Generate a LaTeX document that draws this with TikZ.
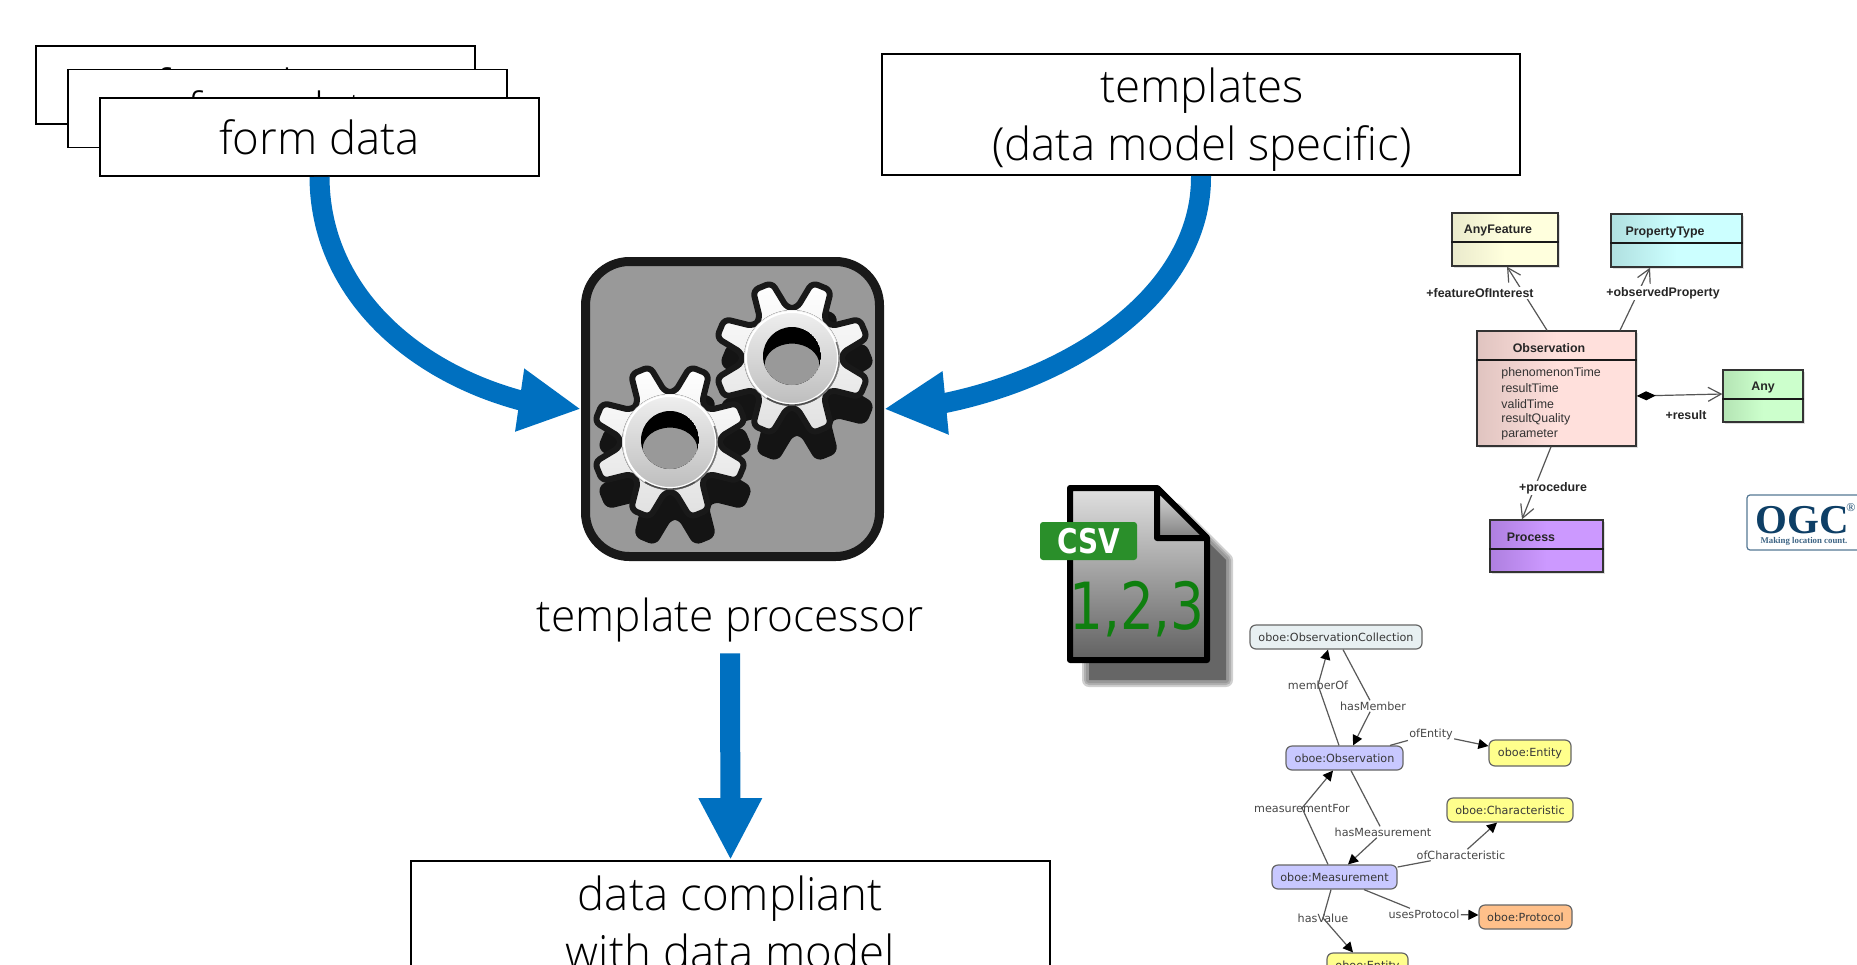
\documentclass[tikz,border=0pt]{standalone}
\usepackage{fontspec}
\setmainfont{Open Sans Light}
\newfontfamily\umlfont{Liberation Sans}
\newfontfamily\oboefont{DejaVu Sans}
\newfontfamily\csvfont{DejaVu Sans}[FakeStretch=0.82]
\newfontfamily\ogcfont{Liberation Serif}
\usetikzlibrary{arrows.meta,shadows}
\definecolor{flowblue}{HTML}{0070C0}
\definecolor{icongray}{HTML}{999999}
\definecolor{edgegray}{HTML}{555555}
\definecolor{csvgreen}{HTML}{2A8F2A}
\definecolor{digitgreen}{HTML}{0F7F0F}
\definecolor{ogcblue}{HTML}{0E3F66}
\definecolor{afl}{HTML}{EAEACC}\definecolor{afr}{HTML}{FFFFDD}
\definecolor{ptl}{HTML}{B0E0E0}\definecolor{ptr}{HTML}{CCFFFF}
\definecolor{obl}{HTML}{E0C4C0}\definecolor{obr}{HTML}{FFE0DC}
\definecolor{anl}{HTML}{B4E4B4}\definecolor{anr}{HTML}{CCFFCC}
\definecolor{prl}{HTML}{AE7FDF}\definecolor{prr}{HTML}{CC99FF}
\definecolor{oboeblue}{HTML}{C8C8FF}
\definecolor{oboeyellow}{HTML}{FFFF8C}
\definecolor{oboeorange}{HTML}{FFC08A}
\definecolor{oboepale}{HTML}{E8F0F2}
\newcommand{\gearshape}{(5.5:50) -- (15:78) -- (30:78) -- (39.5:50) -- (50.5:50) -- (60:78) -- (75:78) -- (84.5:50) -- (95.5:50) -- (105:78) -- (120:78) -- (129.5:50) -- (140.5:50) -- (150:78) -- (165:78) -- (174.5:50) -- (185.5:50) -- (195:78) -- (210:78) -- (219.5:50) -- (230.5:50) -- (240:78) -- (255:78) -- (264.5:50) -- (275.5:50) -- (285:78) -- (300:78) -- (309.5:50) -- (320.5:50) -- (330:78) -- (345:78) -- (354.5:50) -- cycle}
\newcommand{\gearbody}[2]{%
  \begin{scope}[shift={(#1,#2)}]
    \draw[line width=3pt,draw=black!90,line join=round,rounded corners=3pt,top color=white,bottom color=black!12] \gearshape;
    \fill[top color=black!6,bottom color=black!26] (0,0) circle[radius=48];
    \draw[white,line width=1pt] (0,0) circle[radius=46];
    \draw[black!55,line width=.7pt] (25,40) arc[start angle=58,end angle=-20,radius=47];
    \draw[black!70,line width=.8pt] (-25,40) arc[start angle=122,end angle=58,radius=47];
    \begin{scope}
      \clip (0,-2) circle[radius=29];
      \fill[black] (0,-2) circle[radius=29];
      \draw[fill=icongray,draw=black,line width=.6pt] (0,7) ellipse[x radius=28,y radius=22];
    \end{scope}
  \end{scope}}
\newcommand{\gearshadow}[2]{%
  \begin{scope}[shift={(#1,#2)}]
    \draw[line width=2pt,draw=black!92,fill=black!92,line join=round,rounded corners=3pt] \gearshape;
  \end{scope}}
\tikzset{
  x=0.5pt,y=-0.5pt,
  bigtext/.style={font=\fontsize{22.8}{29}\selectfont,align=center,inner sep=0pt},
  plainbox/.style={bigtext,draw=black,fill=white,line width=.9pt,minimum height=39pt,minimum width=219.5pt},
  flow/.style={draw=flowblue,line width=10pt,-{Triangle[length=31pt,width=29.5pt,fill=flowblue]}},
  umlbox/.style={draw=black!80,line width=.7pt,inner sep=0pt,minimum height=26.5pt,drop shadow={shadow xshift=1pt,shadow yshift=-1pt,opacity=.25}},
  umlshade/.style n args={2}{left color=#1,right color=#2,middle color=#2},
  umltitle/.style={font=\umlfont\bfseries\fontsize{6.2}{7}\selectfont,text=black!85,inner sep=0pt},
  umlattr/.style={font=\umlfont\fontsize{6.2}{7}\selectfont,text=black!80,inner sep=0pt,anchor=west},
  umllabel/.style={font=\umlfont\bfseries\fontsize{6.2}{7}\selectfont,text=black!85,inner sep=.6pt,fill=white},
  umlline/.style={draw=edgegray,line width=.6pt},
  umlarrow/.style={umlline,-{Straight Barb[length=6.5pt,width=7pt]}},
  umlcomp/.style={umlline,{Diamond[length=9.5pt,width=4.5pt,fill=black,color=black]}-{Straight Barb[length=6.5pt,width=7pt]}},
  oboebox/.style={draw=black!60,line width=.6pt,rounded corners=3pt,minimum height=12pt,inner sep=0pt,font=\oboefont\fontsize{5.6}{6.5}\selectfont,text=black!78},
  oboelabel/.style={font=\oboefont\fontsize{5.6}{6.5}\selectfont,text=black!72,inner sep=.5pt},
  oboeline/.style={draw=black!65,line width=.6pt},
  oboearrow/.style={oboeline,-{Triangle[length=5pt,width=5pt,fill=black,color=black]}},
}
\begin{document}
\begin{tikzpicture}
\useasboundingbox (0,0) rectangle (1857,964);
\clip (0,0) rectangle (1857,964);
\fill[white] (0,0) rectangle (1857,964);

% stacked form data boxes
\node[plainbox] (form1) at (255.5,85) {form data};
\node[plainbox] (form2) at (287.5,108.5) {form data};
\node[plainbox] (form) at (319.5,137) {form data};
\node[plainbox,minimum width=319pt,minimum height=60.5pt] (templates) at (1201,114.5) {};
\node[bigtext] (templatestext) at (1202,120) {templates\\(data model specific)};

% processor icon
\node[draw=black!90,fill=icongray,line width=4.5pt,rounded corners=22pt,minimum width=147pt,minimum height=147.5pt,inner sep=0pt] (proc) at (732.5,409) {};
\gearshadow{675}{468}
\gearshadow{797}{384}
\gearbody{792}{358}
\gearbody{670}{442}
\node[bigtext,minimum height=33pt,font=\fontsize{22.1}{29}\selectfont] (tp) at (730,620) {template processor};
\node[plainbox,minimum width=319.5pt,minimum height=61.5pt] (data) at (730.5,922.5) {data compliant\\with data model};

% flows
\draw[flow] (form.south) .. controls (320,290) and (410,370) .. (519,400) -- (proc.west);
\draw[flow] (templates.south) .. controls (1202,290) and (1080,375) .. (945,403) -- (proc.east);
\draw[flow] (tp.south) -- (data.north);

% CSV icon
\foreach \w in {7,5,3}{\draw[black!60,opacity=.3,line width=\w pt,line join=round] (1089,510) -- (1176,510) -- (1226,560) -- (1226,680) -- (1089,680) -- cycle;}
\fill[black!60] (1089,510) -- (1176,510) -- (1226,560) -- (1226,680) -- (1089,680) -- cycle;
\draw[line width=3pt,line join=round,draw=black,top color=black!12,bottom color=black!62] (1070,488) -- (1157,488) -- (1207,538) -- (1207,660) -- (1070,660) -- cycle;
\draw[line width=3pt,line join=round,draw=black,top color=black!12,bottom color=black!50] (1157,488) -- (1207,538) -- (1157,538) -- cycle;
\node[fill=csvgreen,rounded corners=1.5pt,minimum width=48.5pt,minimum height=19pt,inner sep=0pt,text=white,font=\csvfont\bfseries\fontsize{17}{20}\selectfont] (csv) at (1088.5,541) {CSV};
\node[text=digitgreen,inner sep=0pt,font=\csvfont\fontsize{32.5}{38}\selectfont] (digits) at (1137,609) {1,2,3};

% UML model
\node[umlbox,umlshade={afl}{afr},minimum width=53pt] (af) at (1505,239.5) {};
\node[umlbox,umlshade={ptl}{ptr},minimum width=65.5pt] (pt) at (1676.5,240.5) {};
\node[umlbox,umlshade={obl}{obr},minimum width=79.5pt,minimum height=57.5pt] (obs) at (1556.5,388.5) {};
\node[umlbox,umlshade={anl}{anr},minimum width=40pt,minimum height=26pt] (any) at (1763,396) {};
\node[umlbox,umlshade={prl}{prr},minimum width=56.5pt,minimum height=26pt] (process) at (1546.5,546) {};
\draw[black!90,line width=.7pt] (af.west |- 0,242) -- (af.east |- 0,242);
\draw[black!90,line width=.7pt] (pt.west |- 0,243) -- (pt.east |- 0,243);
\draw[black!90,line width=.7pt] (obs.west |- 0,360) -- (obs.east |- 0,360);
\draw[black!90,line width=.7pt] (any.west |- 0,399) -- (any.east |- 0,399);
\draw[black!90,line width=.7pt] (process.west |- 0,549) -- (process.east |- 0,549);
\draw[umlarrow] ([xshift=-4.75pt]obs.north) -- ([xshift=1pt]af.south);
\draw[umlarrow] ([xshift=31.75pt]obs.north) -- ([xshift=-13.25pt]pt.south);
\draw[umlcomp] ([yshift=-3.75pt]obs.east) -- ([yshift=1pt]any.west);
\draw[umlarrow] ([xshift=-2.75pt]obs.south) -- ([xshift=-12.25pt]process.north);
\node[umltitle] (taf) at (1498,231) {AnyFeature};
\node[umltitle] (tpt) at (1665,233) {PropertyType};
\node[umltitle] (tobs) at (1549,348) {Observation};
\node[umltitle] (tany) at (1763,388) {Any};
\node[umltitle] (tproc) at (1531,537) {Process};
\node[umlattr] (a1) at (1501,373) {phenomenonTime};
\node[umlattr] (a2) at (1501,388) {resultTime};
\node[umlattr] (a3) at (1501,404) {validTime};
\node[umlattr] (a4) at (1501,419) {resultQuality};
\node[umlattr] (a5) at (1501,435) {parameter};
\node[umllabel] (lfoi) at (1480,293) {+featureOfInterest};
\node[umllabel] (lop) at (1663,293) {+observedProperty};
\node[umllabel] (lres) at (1686,415) {+result};
\node[umllabel] (lproc) at (1553,488) {+procedure};

% OGC logo
\node[draw=ogcblue!70,line width=.6pt,rounded corners=1.5pt,fill=white,minimum width=60pt,minimum height=27.5pt,inner sep=0pt] (ogc) at (1807,522.5) {};
\node[font=\ogcfont\bfseries\fontsize{20.5}{22}\selectfont,text=ogcblue,inner sep=0pt] (ogct) at (1802,520) {OGC};
\node[font=\ogcfont\fontsize{6}{7}\selectfont,text=ogcblue,inner sep=0pt] (ogcr) at (1851,508) {®};
\node[font=\ogcfont\bfseries\fontsize{4.4}{5}\selectfont,text=ogcblue!80,inner sep=0pt] (ogcs) at (1804,541) {Making location count.};

% oboe model
\node[oboebox,fill=oboepale,minimum width=86pt] (coll) at (1336,637) {oboe:ObservationCollection};
\node[oboebox,fill=oboeblue,minimum width=58.5pt] (oobs) at (1344.5,758) {oboe:Observation};
\node[oboebox,fill=oboeyellow,minimum width=41pt,minimum height=13pt] (ent) at (1530,753) {oboe:Entity};
\node[oboebox,fill=oboeyellow,minimum width=63pt] (char) at (1510,810) {oboe:Characteristic};
\node[oboebox,fill=oboeblue,minimum width=62.5pt] (meas) at (1334.5,877) {oboe:Measurement};
\node[oboebox,fill=oboeorange,minimum width=46.5pt] (prot) at (1525.5,917) {oboe:Protocol};
\node[oboebox,fill=oboeyellow,minimum width=40.5pt,minimum height=13pt] (ent2) at (1367.5,966) {oboe:Entity};
\node[oboelabel] (lmo) at (1318,685) {memberOf};
\node[oboelabel] (lhm) at (1373,706) {hasMember};
\node[oboelabel] (loe) at (1431,734) {ofEntity};
\node[oboelabel] (lmf) at (1302,808) {measurementFor};
\node[oboelabel] (lhme) at (1383,832) {hasMeasurement};
\node[oboelabel] (loc) at (1461,855) {ofCharacteristic};
\node[oboelabel] (lup) at (1424,914) {usesProtocol};
\node[oboelabel] (lhv) at (1323,918) {hasValue};
\draw[oboearrow] ([xshift=-2.75pt]oobs.north) -- (lmo.center) -- ([xshift=-4pt]coll.south);
\draw[oboeline] ([xshift=3.5pt]coll.south) -- (lhm);
\draw[oboearrow] (lhm) -- ([xshift=4.25pt]oobs.north);
\draw[oboeline] ([xshift=22.75pt]oobs.north) -- (loe);
\draw[oboearrow] (loe) -- ([yshift=3.5pt]ent.west);
\draw[oboearrow] ([xshift=-3.25pt]meas.north) -- (lmf.center) -- ([xshift=-5.75pt]oobs.south);
\draw[oboeline] ([xshift=3.25pt]oobs.south) -- (lhme);
\draw[oboearrow] (lhme) -- ([xshift=6.75pt]meas.north);
\draw[oboeline] ([yshift=5pt]meas.east) -- (loc);
\draw[oboearrow] (loc) -- ([xshift=-6.5pt]char.south);
\draw[oboeline] ([xshift=14.75pt]meas.south) -- (lup);
\draw[oboearrow] (lup) -- ([yshift=1pt]prot.west);
\draw[oboearrow] ([xshift=-1.75pt]meas.south) -- (lhv.center) -- ([xshift=-7.25pt]ent2.north);
\end{tikzpicture}
\end{document}
